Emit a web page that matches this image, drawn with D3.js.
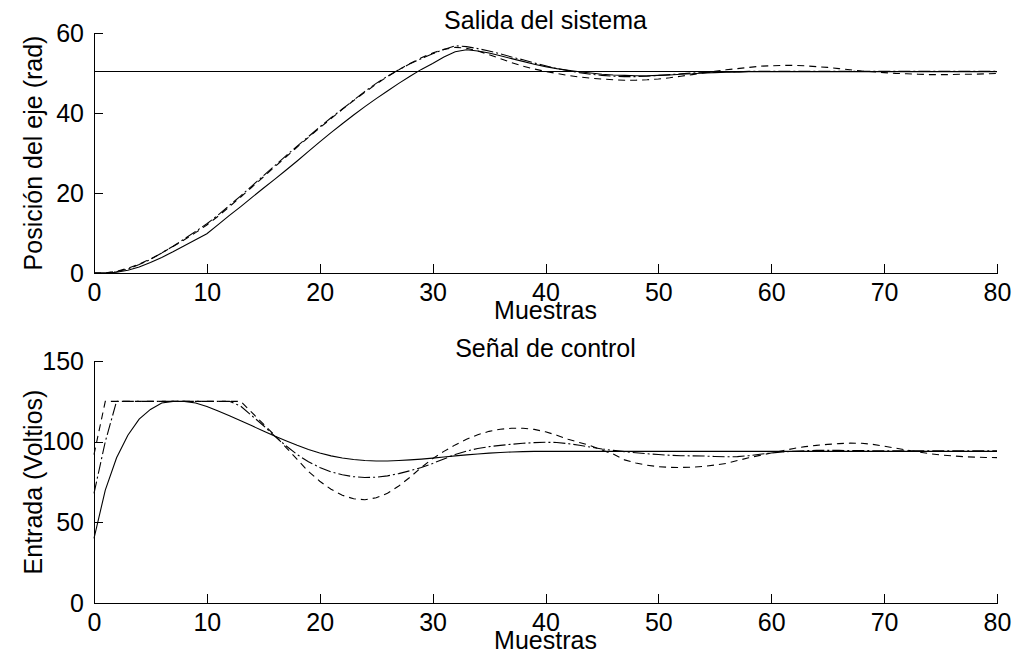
<!DOCTYPE html>
<html>
<head>
<meta charset="utf-8">
<script src="https://cdn.jsdelivr.net/npm/d3@7"></script>
<style>
  body { margin: 0; background: #fff; }
  svg { display: block; font-family: 'Liberation Sans', Arial, sans-serif; }
  .axis path, .axis line { stroke: #000; shape-rendering: crispEdges; }
  .axis text { font-size: 25px; fill: #000; font-family: 'Liberation Sans', Arial, sans-serif; }
  .series { fill: none; stroke: #000; stroke-width: 1.1; }
  .label { font-size: 25px; fill: #000; }
</style>
</head>
<body>
<div id="chart"></div>
<script>
// muestras 0..80
const samples = [0,1,2,3,4,5,6,7,8,9,10,11,12,13,14,15,16,17,18,19,20,
  21,22,23,24,25,26,27,28,29,30,31,32,33,34,35,36,37,38,39,40,
  41,42,43,44,45,46,47,48,49,50,51,52,53,54,55,56,57,58,59,60,
  61,62,63,64,65,66,67,68,69,70,71,72,73,74,75,76,77,78,79,80]

const xTicks = [0, 10, 20, 30, 40, 50, 60, 70, 80]
const posTicks = [0, 20, 40, 60]
const inTicks = [0, 50, 100, 150]

const setpoint = 50.5

// posicion (rad)
const posSolid = [0,0,0.2,0.7,1.5,2.6,3.9,5.3,6.8,8.3,9.8,
  12.1,14.4,16.6,18.9,21.2,23.4,25.7,28,30.4,32.8,
  35.1,37.3,39.5,41.6,43.6,45.5,47.4,49.2,50.9,52.4,
  54,55.3,55.8,55.5,55,54.3,53.6,52.9,52.2,51.6,
  51.1,50.7,50.3,50,49.7,49.5,49.4,49.3,49.3,49.4,
  49.5,49.7,49.8,50,50.1,50.2,50.2,50.3,50.3,50.3,
  50.3,50.3,50.3,50.3,50.3,50.3,50.3,50.3,50.3,50.3,
  50.3,50.3,50.3,50.3,50.3,50.3,50.3,50.3,50.3,50.3]

const posDashDot = [0,0,0.3,1,2.1,3.4,5,6.7,8.5,10.4,12.3,
  14.5,16.9,19.3,21.8,24.3,26.8,29.3,31.7,34.1,36.5,
  38.8,41,43.2,45.4,47.4,49.2,50.8,52.3,53.6,54.8,
  55.9,56.8,56.6,56.1,55.5,54.8,54,53.3,52.5,51.8,
  51.1,50.6,50.1,49.7,49.4,49.2,49.1,49.1,49.2,49.4,
  49.6,49.8,50,50.1,50.2,50.3,50.3,50.4,50.4,50.4,
  50.4,50.4,50.4,50.4,50.4,50.4,50.4,50.4,50.4,50.4,
  50.4,50.4,50.4,50.4,50.4,50.4,50.4,50.4,50.4,50.4]

const posDash = [0,0,0.4,1.2,2.2,3.5,5,6.6,8.3,10.1,12,
  14.2,16.6,19,21.5,24,26.5,29,31.5,33.9,36.3,
  38.6,40.9,43.1,45.2,47.2,49.1,50.8,52.4,53.8,55,
  55.9,56.4,56.2,55.5,54.6,53.6,52.6,51.7,51,50.4,
  49.9,49.4,49,48.7,48.5,48.3,48.2,48.2,48.3,48.5,
  48.8,49.2,49.6,50,50.4,50.8,51.1,51.4,51.7,51.8,
  51.9,51.9,51.8,51.6,51.4,51.1,50.8,50.5,50.3,50.1,
  49.9,49.8,49.7,49.6,49.6,49.6,49.7,49.7,49.8,49.9]

// senal de control (V)
const inSolid = [40,70,90,104,114,120,124,125,125,124,121.8,
  119,116,113,109.8,106.6,103.5,100.6,97.8,95.2,93,
  91.2,89.9,88.9,88.3,88,88,88.3,88.7,89.2,89.8,
  90.5,91.2,91.8,92.4,92.9,93.3,93.6,93.8,94,94,
  94,94,94,94,94,94,94,94,94,94,
  94,94,94,94,94,94,94,94,94,94,
  94,94,94,94,94,94,94,94,94,94,
  94,94,94,94,94,94,94,94,94,94]

const inDashDot = [68,100,125,125,125,125,125,125,125,125,125,
  125,125,122,116,110,103.5,97.5,92,87.5,84,
  81.3,79.5,78.3,77.8,78,78.8,80.2,82,84,86.5,
  89.3,92,94.2,95.8,96.9,97.7,98.4,99,99.4,99.6,
  99.5,98.8,97.8,96.6,95.5,94.6,93.8,93.1,92.5,92,
  91.6,91.3,91.2,91.1,90.8,90.6,90.7,91.3,92.2,93,
  93.6,94.1,94.4,94.6,94.6,94.6,94.5,94.5,94.4,94.4,
  94.4,94.4,94.3,94.3,94.3,94.3,94.3,94.3,94.3,94.3]

const inDash = [92,125,125,125,125,125,125,125,125,125,125,
  125,125,125,118,111,104,96.5,89,81.5,75.5,
  70.5,66.8,64.6,64,65.2,68,72.5,78,84,89.5,
  94,98,101.5,104.3,106.4,107.7,108.3,108.3,107.6,106.1,
  104,101.5,99.5,97.5,94.8,92.3,88.7,86.8,85.4,84.5,
  84.1,84,84.2,84.7,85.5,86.5,88.3,90,91.5,93,
  94.4,95.8,96.9,97.7,98.3,98.8,99.1,99,98.3,97.2,
  96,94.8,93.6,92.6,91.8,91.2,90.7,90.4,90.2,90.1]

const svgWidth = 1014
const svgHeight = 657

const x = d3.scaleLinear().domain([0, 80]).range([94, 997])

const panels = [
  {
    title: 'Salida del sistema',
    ylabel: 'Posición del eje (rad)',
    domain: [0, 60],
    range: [273, 33],
    ticks: posTicks,
    series: [
      { values: posSolid, dash: null },
      { values: posDashDot, dash: '12,3,2,3' },
      { values: posDash, dash: '7,5' }
    ],
    ref: setpoint
  },
  {
    title: 'Señal de control',
    ylabel: 'Entrada (Voltios)',
    domain: [0, 150],
    range: [603, 361],
    ticks: inTicks,
    series: [
      { values: inSolid, dash: null },
      { values: inDashDot, dash: '12,3,2,3' },
      { values: inDash, dash: '7,5' }
    ],
    ref: null
  }
]

const svg = d3.select('#chart').append('svg')
  .attr('width', svgWidth)
  .attr('height', svgHeight)

panels.forEach(p => {
  const y = d3.scaleLinear().domain(p.domain).range(p.range)
  const g = svg.append('g')
  const x0 = x.range()[0]
  const bottom = p.range[0]
  const top = p.range[1]

  const axisX = d3.axisBottom(x)
    .tickValues(xTicks)
    .tickSizeInner(-9)
    .tickSizeOuter(0)
    .tickPadding(10)
  g.append('g')
    .attr('class', 'axis axis--x')
    .attr('transform', 'translate(0,' + bottom + ')')
    .call(axisX)

  const axisY = d3.axisLeft(y)
    .tickValues(p.ticks)
    .tickSizeInner(-9)
    .tickSizeOuter(0)
    .tickPadding(10)
  g.append('g')
    .attr('class', 'axis axis--y')
    .attr('transform', 'translate(' + x0 + ',0)')
    .call(axisY)

  if (p.ref !== null) {
    g.append('line')
      .attr('x1', x(0)).attr('x2', x(80))
      .attr('y1', y(p.ref)).attr('y2', y(p.ref))
      .attr('stroke', '#000')
      .attr('shape-rendering', 'crispEdges')
  }

  const line = d3.line()
    .x((d, i) => x(samples[i]))
    .y(d => y(d))

  p.series.forEach(s => {
    g.append('path')
      .datum(s.values)
      .attr('class', 'series')
      .attr('stroke-dasharray', s.dash)
      .attr('d', line)
  })

  const cx = (x.range()[0] + x.range()[1]) / 2
  g.append('text')
    .attr('class', 'label')
    .attr('x', cx)
    .attr('y', top - 4)
    .attr('text-anchor', 'middle')
    .text(p.title)

  g.append('text')
    .attr('class', 'label')
    .attr('x', cx)
    .attr('y', bottom + 46)
    .attr('text-anchor', 'middle')
    .text('Muestras')

  g.append('text')
    .attr('class', 'label')
    .attr('transform', 'translate(42,' + (top + bottom) / 2 + ') rotate(-90)')
    .attr('text-anchor', 'middle')
    .text(p.ylabel)
})
</script>
</body>
</html>
